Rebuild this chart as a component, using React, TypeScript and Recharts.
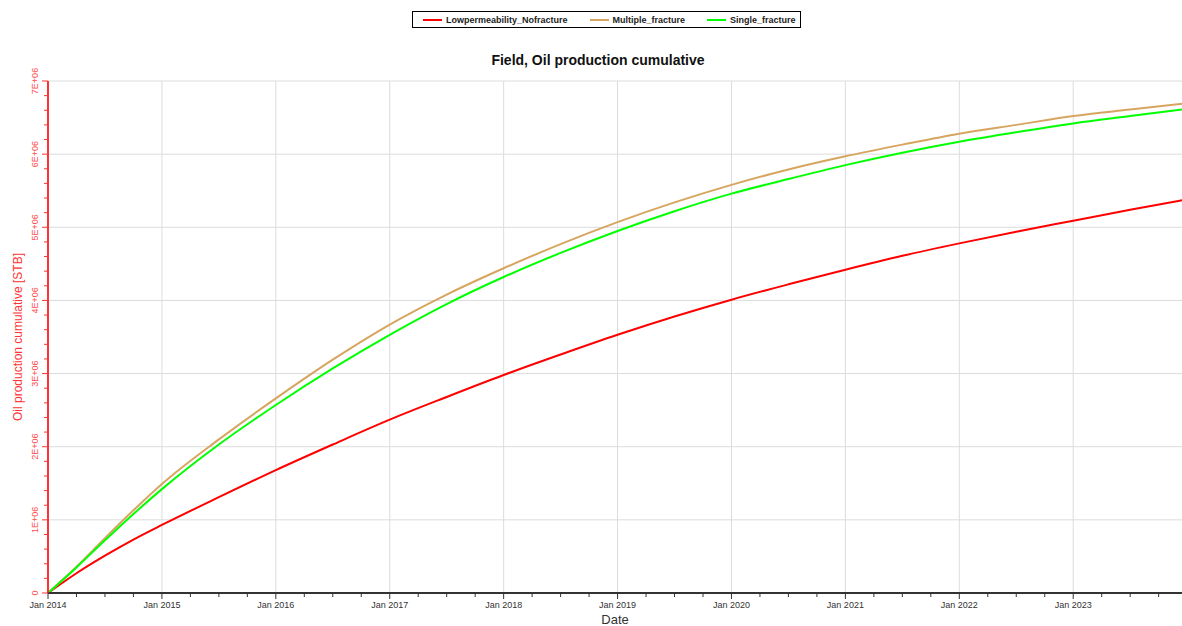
import React from 'react';
import { LineChart, Line, XAxis, YAxis, ReferenceLine } from 'recharts';

// sample dates (denser near the start)
const dates = [
  '2014-01-01', '2014-04-01', '2014-07-01', '2014-10-01', '2015-01-01', '2015-07-01',
  '2016-01-01', '2016-07-01', '2017-01-01', '2017-07-01', '2018-01-01', '2018-07-01',
  '2019-01-01', '2019-07-01', '2020-01-01', '2020-07-01', '2021-01-01', '2021-07-01',
  '2022-01-01', '2022-07-01', '2023-01-01', '2023-07-01', '2023-12-15',
];

// cumulative oil, millions of STB
const lowPermNoFrac = [
  0, 0.27, 0.51, 0.73, 0.93, 1.31, 1.68, 2.03, 2.37, 2.68, 2.98, 3.26,
  3.53, 3.78, 4.01, 4.22, 4.42, 4.61, 4.78, 4.94, 5.09, 5.24, 5.37,
];
const multipleFrac = [
  0, 0.36, 0.75, 1.13, 1.49, 2.1, 2.66, 3.19, 3.67, 4.08, 4.44, 4.77,
  5.07, 5.34, 5.58, 5.79, 5.97, 6.13, 6.28, 6.4, 6.52, 6.61, 6.69,
];
const singleFrac = [
  0, 0.35, 0.72, 1.08, 1.42, 2.03, 2.57, 3.07, 3.53, 3.95, 4.32, 4.65,
  4.95, 5.22, 5.46, 5.66, 5.85, 6.02, 6.17, 6.3, 6.42, 6.52, 6.61,
];

const years = [2014, 2015, 2016, 2017, 2018, 2019, 2020, 2021, 2022, 2023];
const yMajor = [1, 2, 3, 4, 5, 6, 7];

const SERIES = [
  { key: 'low', name: 'Lowpermeability_Nofracture', color: '#ff0000' },
  { key: 'multi', name: 'Multiple_fracture', color: '#d6a660' },
  { key: 'single', name: 'Single_fracture', color: '#00ff00' },
];

const FONT = '"Liberation Sans", Arial, sans-serif';

const toYear = (d: string) => {
  const [y, m, day] = d.split('-').map(Number);
  return y + (m - 1) / 12 + (day - 1) / 365;
};

const data = dates.map((d, i) => ({
  t: toYear(d),
  low: lowPermNoFrac[i] * 1e6,
  multi: multipleFrac[i] * 1e6,
  single: singleFrac[i] * 1e6,
}));

const xTicks: number[] = [];
years.forEach((y) => [0, 0.25, 0.5, 0.75].forEach((q) => xTicks.push(y + q)));
const yTicks: number[] = [];
for (let i = 0; i <= 35; i++) yTicks.push(i * 200000);

const XTick = (props: any) => {
  const { x, y, payload } = props;
  const major = Math.abs(payload.value - Math.round(payload.value)) < 1e-6;
  return (
    <g>
      <line x1={x} x2={x} y1={y - 9} y2={y - 8 + (major ? 6 : 4)} stroke="#333" strokeWidth={1} />
      {major && (
        <text x={x} y={y + 7} textAnchor="middle" fontSize={9} fill="#333" fontFamily={FONT}>
          {`Jan ${Math.round(payload.value)}`}
        </text>
      )}
    </g>
  );
};

const YTick = (props: any) => {
  const { x, y, payload } = props;
  const v = payload.value / 1e6;
  const major = Math.abs(v - Math.round(v)) < 1e-6;
  const label = v === 0 ? '0' : `${Math.round(v)}E+06`;
  return (
    <g>
      <line x1={x + (major ? 2 : 4)} x2={x + 8} y1={y} y2={y} stroke="#ff3333" strokeWidth={1} />
      {major && (
        <text
          x={x - 2}
          y={y}
          transform={`rotate(-90, ${x - 2}, ${y})`}
          textAnchor="middle"
          fontSize={9}
          fill="#ff4d4d"
          fontFamily={FONT}
        >
          {label}
        </text>
      )}
    </g>
  );
};

const LegendBox = () => (
  <div
    style={{
      position: 'absolute',
      left: 412,
      top: 11,
      width: 387,
      height: 15,
      border: '1px solid #000',
      display: 'flex',
      alignItems: 'center',
      fontFamily: FONT,
      fontSize: 9,
      fontWeight: 'bold',
      color: '#222',
    }}
  >
    {SERIES.map((s, i) => (
      <div
        key={s.key}
        style={{ display: 'flex', alignItems: 'center', marginLeft: i === 0 ? 10 : 22 }}
      >
        <span style={{ width: 19, height: 2, background: s.color, marginRight: 4 }} />
        <span>{s.name}</span>
      </div>
    ))}
  </div>
);

export default function App() {
  return (
    <div style={{ position: 'absolute', left: 0, top: 0, width: 1182, height: 626, background: '#fff' }}>
      <LegendBox />
      <div
        style={{
          position: 'absolute',
          left: 0,
          width: 1196,
          top: 52,
          textAlign: 'center',
          fontFamily: FONT,
          fontSize: 14,
          fontWeight: 'bold',
          color: '#111',
        }}
      >
        Field, Oil production cumulative
      </div>
      <LineChart width={1182} height={626} data={data} margin={{ top: 81, right: 0, bottom: 0, left: 0 }}>
        {years.slice(1).map((y) => (
          <ReferenceLine key={`vx-${y}`} x={y} stroke="#dcdcdc" strokeWidth={1} />
        ))}
        {yMajor.map((v) => (
          <ReferenceLine key={`hy-${v}`} y={v * 1e6} stroke="#dcdcdc" strokeWidth={1} />
        ))}
        <XAxis
          dataKey="t"
          type="number"
          domain={[2014, 'dataMax']}
          ticks={xTicks}
          interval={0}
          height={33}
          tick={<XTick />}
          tickLine={false}
          axisLine={{ stroke: '#333', strokeWidth: 2 }}
          label={{ value: 'Date', position: 'insideBottom', offset: 2, fill: '#333', fontSize: 13, fontFamily: FONT }}
        />
        <YAxis
          type="number"
          domain={[0, 7000000]}
          ticks={yTicks}
          interval={0}
          width={48}
          tick={<YTick />}
          tickLine={false}
          axisLine={{ stroke: '#ff3333', strokeWidth: 2 }}
          label={{
            value: 'Oil production cumulative [STB]',
            angle: -90,
            position: 'insideLeft',
            offset: 18,
            style: { textAnchor: 'middle', fill: '#ff3333', fontSize: 12, fontFamily: FONT },
          }}
        />
        {SERIES.map((s) => (
          <Line
            key={s.key}
            dataKey={s.key}
            name={s.name}
            stroke={s.color}
            strokeWidth={2}
            dot={false}
            type="monotone"
            isAnimationActive={false}
          />
        ))}
      </LineChart>
    </div>
  );
}
